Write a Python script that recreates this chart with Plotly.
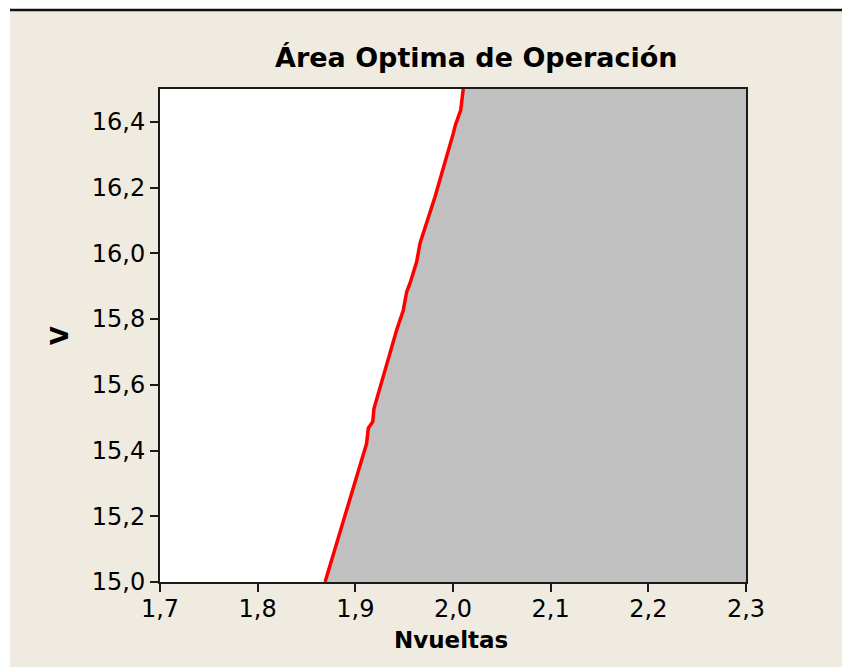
import plotly.graph_objects as go

# Frontier (red line) of the optimal operating area
nvueltas = [1.869, 1.9116, 1.9133, 1.9178, 1.9191, 1.9235, 1.9423, 1.9491, 1.9526,
            1.9560, 1.9628, 1.9662, 1.9816, 2.0003, 2.0024, 2.0079, 2.0105]
v_vals = [15.0, 15.422, 15.468, 15.488, 15.528, 15.574, 15.767, 15.827, 15.883,
          15.909, 15.974, 16.030, 16.172, 16.365, 16.390, 16.436, 16.5]

x_range = [1.7, 2.3]
y_range = [15.0, 16.5]
x_ticks = [1.7, 1.8, 1.9, 2.0, 2.1, 2.2, 2.3]
x_ticktext = ["1,7", "1,8", "1,9", "2,0", "2,1", "2,2", "2,3"]
y_ticks = [15.0, 15.2, 15.4, 15.6, 15.8, 16.0, 16.2, 16.4]
y_ticktext = ["15,0", "15,2", "15,4", "15,6", "15,8", "16,0", "16,2", "16,4"]

W, H = 842, 667
L, R, T, B = 160, 96, 89, 85
pw, ph = W - L - R, H - T - B

def px(x):
    return (x - L) / pw

def py(y):
    return (H - B - y) / ph

fig = go.Figure()

# shaded region: right of the frontier
poly_x = nvueltas + [x_range[1], x_range[1]]
poly_y = v_vals + [y_range[1], y_range[0]]
fig.add_trace(go.Scatter(x=poly_x, y=poly_y, fill="toself", fillcolor="#C0C0C0",
                         line=dict(width=0), mode="lines", hoverinfo="skip",
                         showlegend=False))
fig.add_trace(go.Scatter(x=nvueltas, y=v_vals, mode="lines",
                         line=dict(color="#FF0000", width=3.5), showlegend=False))

font = "DejaVu Sans, Verdana, sans-serif"
fig.update_layout(
    width=W, height=H,
    margin=dict(l=L, r=R, t=T, b=B),
    paper_bgcolor="#EFEBE1",
    plot_bgcolor="white",
    showlegend=False,
    font=dict(family=font, color="black", size=24),
    xaxis=dict(range=x_range, tickvals=x_ticks, ticktext=x_ticktext,
               showgrid=False, zeroline=False, showline=True, linecolor="#1a1a1a",
               linewidth=2, mirror=True, ticks="outside", ticklen=8, tickwidth=1.5,
               tickcolor="#1a1a1a", tickfont=dict(size=24), ticklabelstandoff=-4),
    yaxis=dict(range=y_range, tickvals=y_ticks, ticktext=y_ticktext,
               showgrid=False, zeroline=False, showline=True, linecolor="#1a1a1a",
               linewidth=2, mirror=True, ticks="outside", ticklen=8, tickwidth=1.5,
               tickcolor="#1a1a1a", tickfont=dict(size=24)),
    shapes=[
        dict(type="rect", xref="paper", yref="paper", x0=px(0), x1=px(10), y0=py(H), y1=py(0),
             fillcolor="white", line=dict(width=0), layer="above"),
        dict(type="rect", xref="paper", yref="paper", x0=px(0), x1=px(W), y0=py(9), y1=py(0),
             fillcolor="white", line=dict(width=0), layer="above"),
        dict(type="line", xref="paper", yref="paper", x0=px(10), x1=px(W), y0=py(10), y1=py(10),
             line=dict(color="#111111", width=2.5), layer="above"),
    ],
    annotations=[
        dict(text="<b>Área Optima de Operación</b>", xref="paper", yref="paper",
             x=px(476), y=py(57), xanchor="center", yanchor="middle", showarrow=False,
             font=dict(size=27, family=font)),
        dict(text="<b>Nvueltas</b>", xref="paper", yref="paper",
             x=px(451), y=py(640), xanchor="center", yanchor="middle", showarrow=False,
             font=dict(size=23, family=font)),
        dict(text="<b>V</b>", xref="paper", yref="paper", textangle=-90,
             x=px(60), y=py(335), xanchor="center", yanchor="middle", showarrow=False,
             font=dict(size=24, family=font)),
    ],
)

fig.write_html("out.html")
